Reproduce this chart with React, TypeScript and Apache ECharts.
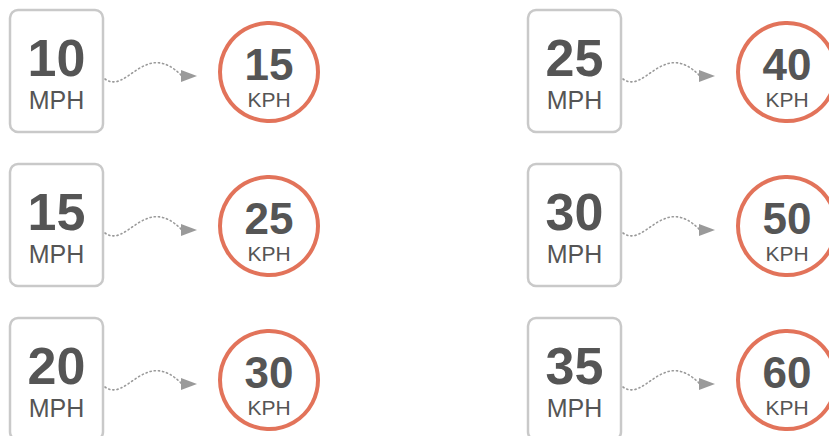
import React, { useEffect, useRef } from "react";
import * as echarts from "echarts";

const columns = ["left", "right"];
const rows = ["row1", "row2", "row3"];
const mphValues = [10, 15, 20, 25, 30, 35];
const kphValues = [15, 25, 30, 40, 50, 60];
const fromUnit = "MPH";
const toUnit = "KPH";

const FONT = '"Liberation Sans", Arial, Helvetica, sans-serif';
const TEXT_COLOR = "#555555";
const BOX_STROKE = "#c9c9c9";
const CIRCLE_STROKE = "#e2735a";
const ARROW_COLOR = "#9a9a9a";

export default function App() {
  const ref = useRef<HTMLDivElement>(null);

  useEffect(() => {
    document.body.style.margin = "0";
    document.body.style.overflow = "hidden";
    if (!ref.current) return;
    const chart = echarts.init(ref.current, null, { renderer: "svg" });

    const data = mphValues.map((m, i) => [Math.floor(i / rows.length), i % rows.length, m, kphValues[i]]);

    const renderItem = (params: any, api: any) => {
      const col = api.value(0);
      const row = api.value(1);
      const mph = api.value(2);
      const kph = api.value(3);
      const [bx, by] = api.coord([col, row]);
      const boxW = 95;
      const boxH = 124;
      const cx = bx + 260;
      const cy = by + 63;
      return {
        type: "group",
        children: [
          {
            type: "rect",
            shape: { x: bx + 1, y: by + 1, width: boxW - 2, height: boxH - 2, r: 8 },
            style: { fill: "#ffffff", stroke: BOX_STROKE, lineWidth: 2.5 },
          },
          {
            type: "text",
            x: bx + boxW / 2,
            y: by + 49,
            style: {
              text: String(mph),
              font: `bold 52px ${FONT}`,
              fill: TEXT_COLOR,
              align: "center",
              verticalAlign: "middle",
              textAlign: "center",
              textVerticalAlign: "middle",
            },
          },
          {
            type: "text",
            x: bx + boxW / 2,
            y: by + 91,
            style: {
              text: fromUnit,
              font: `25px ${FONT}`,
              fill: TEXT_COLOR,
              align: "center",
              verticalAlign: "middle",
              textAlign: "center",
              textVerticalAlign: "middle",
            },
          },
          {
            type: "bezierCurve",
            shape: {
              x1: bx + 96,
              y1: by + 70,
              cpx1: bx + 118,
              cpy1: by + 86,
              cpx2: bx + 136,
              cpy2: by + 29,
              x2: bx + 173,
              y2: by + 67,
            },
            style: {
              fill: "none",
              stroke: ARROW_COLOR,
              lineWidth: 1.6,
              lineDash: [1.2, 3],
              lineCap: "round",
            },
          },
          {
            type: "polygon",
            shape: {
              points: [
                [bx + 172, by + 61],
                [bx + 188, by + 67],
                [bx + 172, by + 73],
              ],
            },
            style: { fill: ARROW_COLOR },
          },
          {
            type: "circle",
            shape: { cx, cy, r: 49 },
            style: { fill: "#ffffff", stroke: CIRCLE_STROKE, lineWidth: 4 },
          },
          {
            type: "text",
            x: cx,
            y: by + 55,
            style: {
              text: String(kph),
              font: `bold 44px ${FONT}`,
              fill: TEXT_COLOR,
              align: "center",
              verticalAlign: "middle",
              textAlign: "center",
              textVerticalAlign: "middle",
            },
          },
          {
            type: "text",
            x: cx,
            y: by + 90,
            style: {
              text: toUnit,
              font: `21px ${FONT}`,
              fill: TEXT_COLOR,
              align: "center",
              verticalAlign: "middle",
              textAlign: "center",
              textVerticalAlign: "middle",
            },
          },
        ],
      };
    };

    chart.setOption({
      animation: false,
      backgroundColor: "#ffffff",
      grid: { left: 9, right: 302, top: 9, bottom: 119 },
      xAxis: { type: "category", data: columns, boundaryGap: false, show: false },
      yAxis: { type: "category", data: rows, boundaryGap: false, inverse: true, show: false },
      series: [
        {
          type: "custom",
          coordinateSystem: "cartesian2d",
          clip: false,
          renderItem,
          encode: { x: 0, y: 1 },
          data,
        },
      ],
    });

    return () => chart.dispose();
  }, []);

  return <div ref={ref} style={{ width: 829, height: 436 }} />;
}
